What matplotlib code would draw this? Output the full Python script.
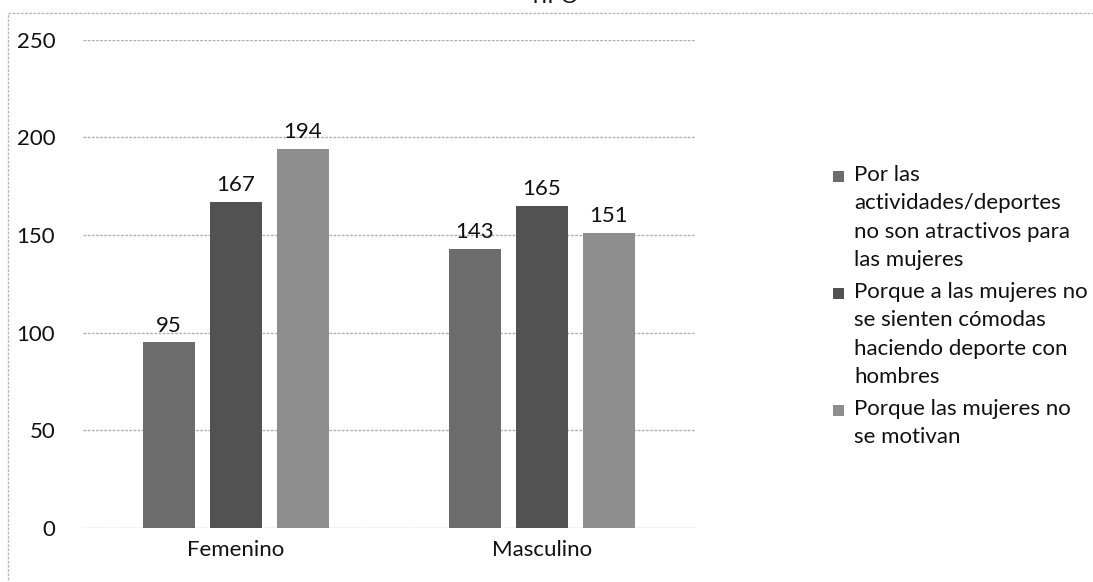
import matplotlib.pyplot as plt
import numpy as np
from matplotlib.patches import Rectangle

plt.rcParams['font.family'] = ['Lato', 'DejaVu Sans']

categorias = ['Femenino', 'Masculino']
series = [['Por las', 'actividades/deportes', 'no son atractivos para', 'las mujeres'],
          ['Porque a las mujeres no', 'se sienten cómodas', 'haciendo deporte con', 'hombres'],
          ['Porque las mujeres no', 'se motivan']]
valores = [[95, 143],
           [167, 165],
           [194, 151]]
colores = ['#6c6c6c', '#525252', '#8e8e8e']

W, H = 1093, 582
fig = plt.figure(figsize=(W / 100, H / 100), dpi=100)
ax = fig.add_axes([83 / W, 1 - 528 / H, 612 / W, (528 - 39.5) / H])

x = np.arange(len(categorias))
ancho = 0.17
paso = 0.219
for i, vals in enumerate(valores):
    barras = ax.bar(x + (i - 1) * paso, vals, ancho, color=colores[i], zorder=2)
    for b, v in zip(barras, vals):
        ax.text(b.get_x() + b.get_width() / 2, v + 3.5, str(v),
                ha='center', va='bottom', fontsize=16, color='#111111')

ax.set_xlim(-0.5, 1.5)
ax.set_ylim(0, 250)
ax.set_yticks(range(0, 251, 50))
ax.set_xticks(x)
ax.set_xticklabels(categorias)
ax.tick_params(axis='both', length=0, labelsize=16, colors='#111111')
ax.tick_params(axis='y', pad=20)
ax.tick_params(axis='x', pad=9)
ax.yaxis.grid(True, color='#b0b0b0', linewidth=1, linestyle=(0, (2, 1)), zorder=0)
for s in ax.spines.values():
    s.set_visible(False)

# leyenda a mano: cuadro alineado con la primera linea de cada entrada
renglon = 28.4
salto = 31.8
y = 175
for i, lineas in enumerate(series):
    fig.patches.append(Rectangle((833 / W, 1 - (y + 7) / H), 11 / W, 11 / H,
                                 transform=fig.transFigure, facecolor=colores[i],
                                 edgecolor='none'))
    for j, linea in enumerate(lineas):
        fig.text(854 / W, 1 - y / H, linea, ha='left', va='center',
                 fontsize=16, color='#111111')
        if j < len(lineas) - 1:
            y += renglon
    y += salto

# marco exterior del grafico
fig.patches.append(Rectangle((8 / W, -0.05), 1.1, 1 - 13 / H + 0.05,
                             transform=fig.transFigure, fill=False,
                             edgecolor='#b8b8b8', linewidth=1, linestyle=(0, (2, 1))))

fig.text(554 / W, 1 - 3 / H, 'TIPO', ha='center', va='baseline', fontsize=16,
         color='#111111')

fig.savefig('out.png', dpi=100)
